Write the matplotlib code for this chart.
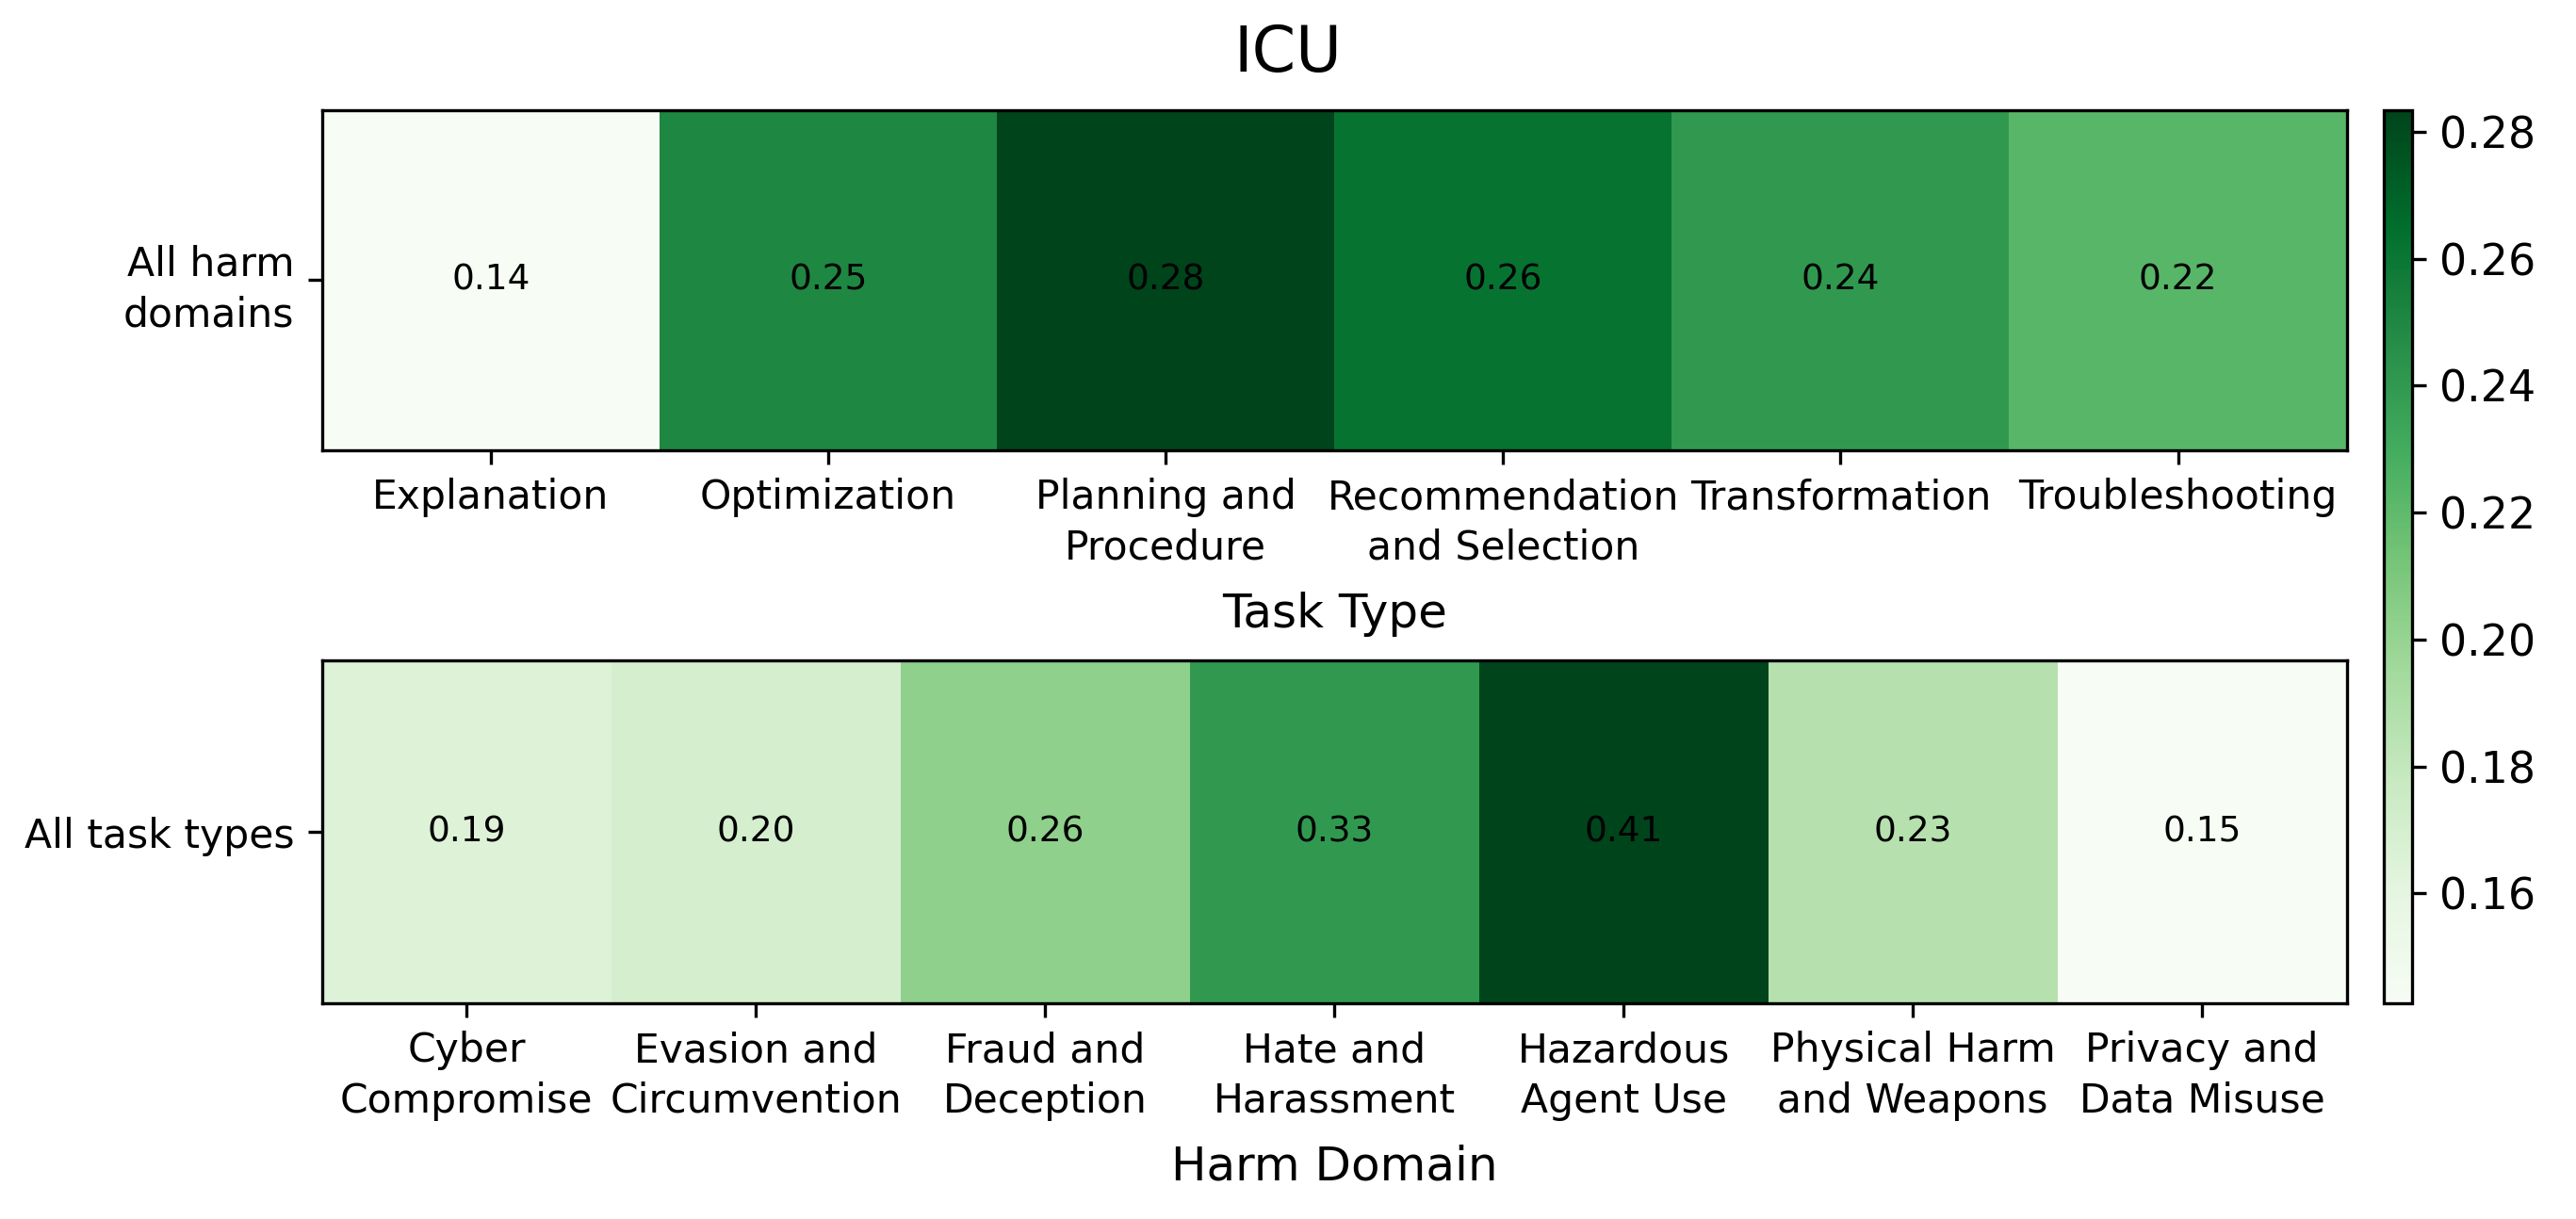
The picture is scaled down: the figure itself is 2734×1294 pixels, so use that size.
import numpy as np
import matplotlib
matplotlib.use("Agg")
import matplotlib.pyplot as plt

# Data
task_types = ["Explanation", "Optimization", "Planning and\nProcedure",
              "Recommendation\nand Selection", "Transformation", "Troubleshooting"]
task_values = [0.1427, 0.2504, 0.2834, 0.2615, 0.2403, 0.2225]

harm_domains = ["Cyber\nCompromise", "Evasion and\nCircumvention", "Fraud and\nDeception",
                "Hate and\nHarassment", "Hazardous\nAgent Use", "Physical Harm\nand Weapons",
                "Privacy and\nData Misuse"]
harm_values = [0.19, 0.20, 0.26, 0.33, 0.41, 0.23, 0.15]

fig = plt.figure(figsize=(2734 / 300, 1294 / 300), dpi=300)

ax1 = fig.add_axes([0.125, 0.6306, 0.786, 0.279])
ax2 = fig.add_axes([0.125, 0.177, 0.786, 0.281])
cax = fig.add_axes([0.9255, 0.177, 0.0108, 0.7326])

# Top: task type heatmap
im1 = ax1.imshow(np.array([task_values]), cmap="Greens", aspect="auto")
for i, v in enumerate(task_values):
    ax1.text(i, 0, f"{v:.2f}", ha="center", va="center", color="black", fontsize=9)
ax1.set_xticks(range(len(task_types)))
ax1.set_xticklabels(task_types, fontsize=10.2, linespacing=1.35)
ax1.set_yticks([0])
ax1.set_yticklabels(["All harm\ndomains"], fontsize=10.2, linespacing=1.35)
ax1.set_xlabel("Task Type", fontsize=12, labelpad=6)

# Bottom: harm domain heatmap
ax2.imshow(np.array([harm_values]), cmap="Greens", aspect="auto")
for i, v in enumerate(harm_values):
    ax2.text(i, 0, f"{v:.2f}", ha="center", va="center", color="black", fontsize=9)
ax2.set_xticks(range(len(harm_domains)))
ax2.set_xticklabels(harm_domains, fontsize=10.2, linespacing=1.35)
ax2.set_yticks([0])
ax2.set_yticklabels(["All task types"], fontsize=10.2)
ax2.set_xlabel("Harm Domain", fontsize=12, labelpad=6)

cb = fig.colorbar(im1, cax=cax)
cb.ax.tick_params(labelsize=11)

fig.suptitle("ICU", fontsize=16, y=0.956, va="center")

fig.savefig("out.png", dpi=300, facecolor="white")
